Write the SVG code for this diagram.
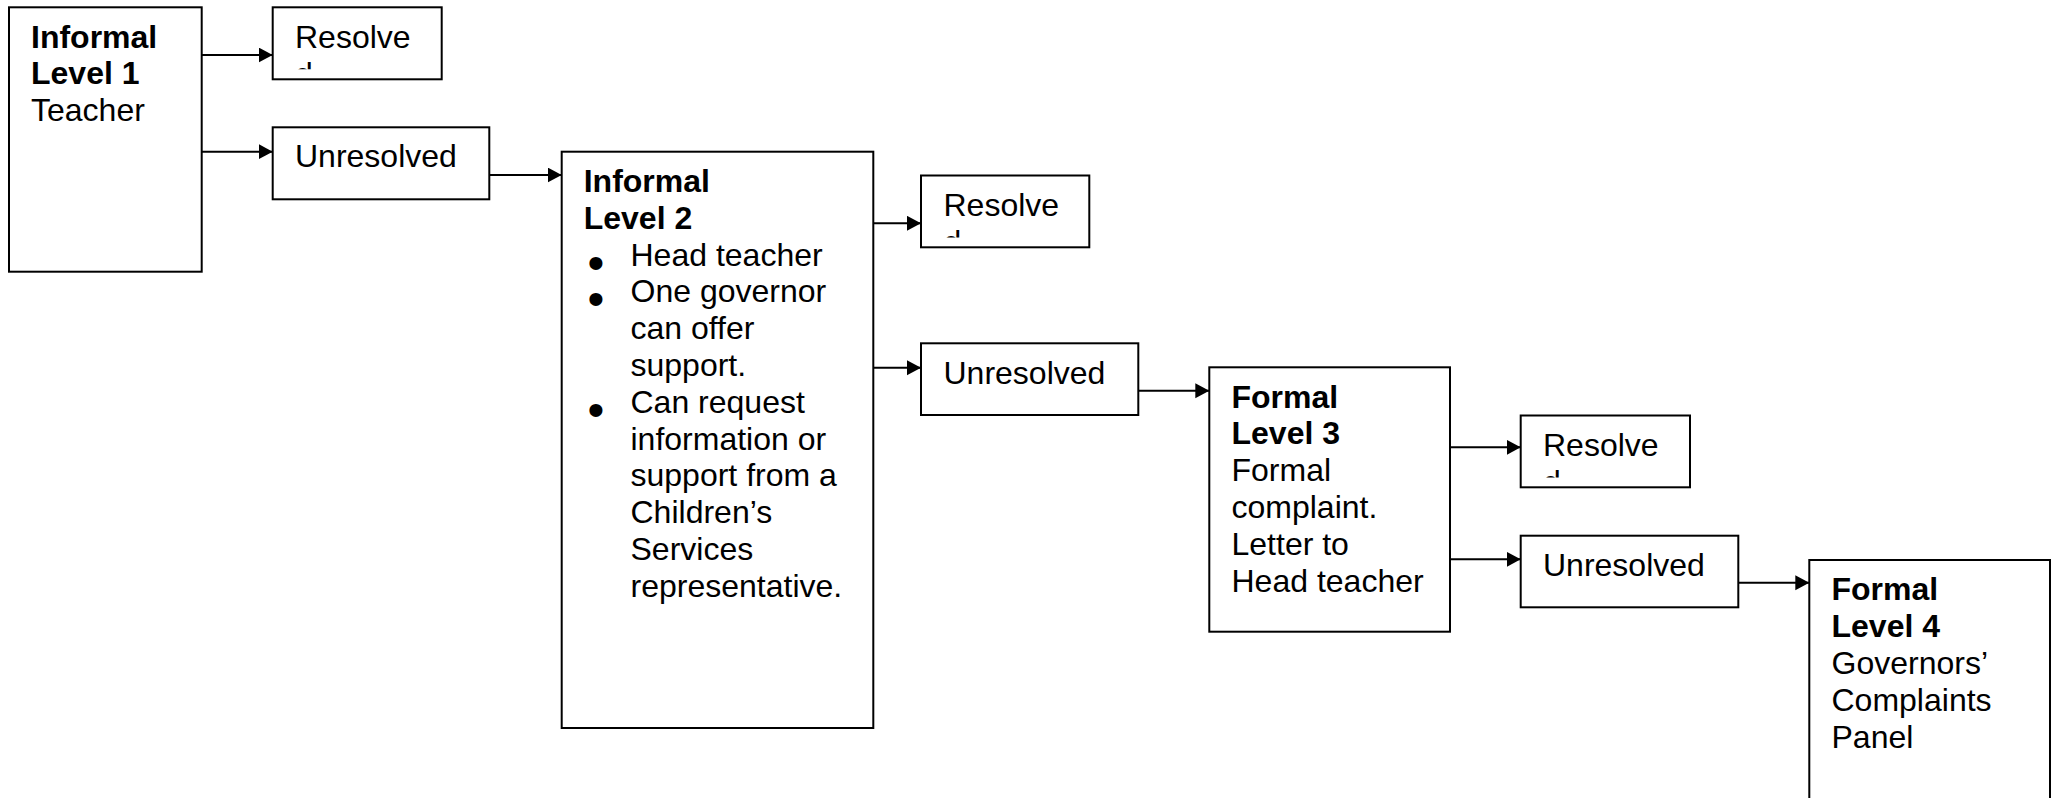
<svg xmlns="http://www.w3.org/2000/svg" width="2056" height="798" viewBox="0 0 2056 798">
<style>
.box{fill:#fff;stroke:#000;stroke-width:2}
.t{font-family:"Liberation Sans",Arial,sans-serif;font-size:32px;fill:#000}
.b{font-weight:bold}
.bul{font-family:"Liberation Sans",Arial,sans-serif;font-size:48px;fill:#000;text-anchor:middle}
.c{stroke:#000;stroke-width:2;fill:none;marker-end:url(#ah)}
</style>
<defs>
<marker id="ah" markerUnits="userSpaceOnUse" markerWidth="15" markerHeight="16" refX="14" refY="7.5" orient="auto">
<path d="M0,0 L14,7.5 L0,15 Z" fill="#000"/>
</marker>
<clipPath id="cr1"><rect x="272.7" y="7.3" width="169" height="62"/></clipPath>
<clipPath id="cr2"><rect x="921" y="175.5" width="168.3" height="62"/></clipPath>
<clipPath id="cr3"><rect x="1520.7" y="415.5" width="169.3" height="62"/></clipPath>
</defs>
<rect x="0" y="0" width="2056" height="798" fill="#fff"/>

<g id="connectors">
<path class="c" d="M201.7,55 H272.7"/>
<path class="c" d="M201.7,151.7 H272.7"/>
<path class="c" d="M489.3,175 H561.7"/>
<path class="c" d="M873.3,223.3 H921"/>
<path class="c" d="M873.3,367.7 H921"/>
<path class="c" d="M1138.3,390.7 H1209.3"/>
<path class="c" d="M1450,447.3 H1520.7"/>
<path class="c" d="M1450,559.3 H1520.7"/>
<path class="c" d="M1738.3,582.7 H1809.3"/>
</g>

<g id="level1">
<rect class="box" x="9" y="7.3" width="192.7" height="264.4"/>
<text class="t b" x="31" y="47.6">Informal</text>
<text class="t b" x="31" y="84.4">Level 1</text>
<text class="t" x="31" y="121.2">Teacher</text>
</g>

<g id="resolve1">
<rect class="box" x="272.7" y="7.3" width="169" height="72"/>
<text class="t" x="295" y="48">Resolve</text>
<text class="t" x="295" y="84.8" clip-path="url(#cr1)">d</text>
</g>

<g id="unresolved1">
<rect class="box" x="272.7" y="127.3" width="216.6" height="72"/>
<text class="t" x="295" y="167">Unresolved</text>
</g>

<g id="level2">
<rect class="box" x="561.7" y="151.7" width="311.6" height="576.3"/>
<text class="t b" x="583.7" y="192">Informal</text>
<text class="t b" x="583.7" y="228.8">Level 2</text>
<text class="bul" x="596" y="278.5">•</text>
<text class="t" x="630.5" y="265.6">Head teacher</text>
<text class="bul" x="596" y="315.3">•</text>
<text class="t" x="630.5" y="302.4">One governor</text>
<text class="t" x="630.5" y="339.2">can offer</text>
<text class="t" x="630.5" y="376">support.</text>
<text class="bul" x="596" y="425.7">•</text>
<text class="t" x="630.5" y="412.8">Can request</text>
<text class="t" x="630.5" y="449.6">information or</text>
<text class="t" x="630.5" y="486.4">support from a</text>
<text class="t" x="630.5" y="523.2">Children’s</text>
<text class="t" x="630.5" y="560">Services</text>
<text class="t" x="630.5" y="596.8">representative.</text>
</g>

<g id="resolve2">
<rect class="box" x="921" y="175.5" width="168.3" height="71.8"/>
<text class="t" x="943.5" y="216">Resolve</text>
<text class="t" x="943.5" y="252.8" clip-path="url(#cr2)">d</text>
</g>

<g id="unresolved2">
<rect class="box" x="921" y="343.3" width="217.3" height="71.7"/>
<text class="t" x="943.5" y="383.5">Unresolved</text>
</g>

<g id="level3">
<rect class="box" x="1209.3" y="367.3" width="240.7" height="264.4"/>
<text class="t b" x="1231.5" y="407.6">Formal</text>
<text class="t b" x="1231.5" y="444.4">Level 3</text>
<text class="t" x="1231.5" y="481.2">Formal</text>
<text class="t" x="1231.5" y="518">complaint.</text>
<text class="t" x="1231.5" y="554.8">Letter to</text>
<text class="t" x="1231.5" y="591.6">Head teacher</text>
</g>

<g id="resolve3">
<rect class="box" x="1520.7" y="415.5" width="169.3" height="71.8"/>
<text class="t" x="1543" y="456">Resolve</text>
<text class="t" x="1543" y="492.8" clip-path="url(#cr3)">d</text>
</g>

<g id="unresolved3">
<rect class="box" x="1520.7" y="535.7" width="217.6" height="71.6"/>
<text class="t" x="1543" y="576">Unresolved</text>
</g>

<g id="level4">
<rect class="box" x="1809.3" y="560" width="240.7" height="300"/>
<text class="t b" x="1831.5" y="600.3">Formal</text>
<text class="t b" x="1831.5" y="637.1">Level 4</text>
<text class="t" x="1831.5" y="673.9">Governors’</text>
<text class="t" x="1831.5" y="710.7">Complaints</text>
<text class="t" x="1831.5" y="747.5">Panel</text>
</g>
</svg>
